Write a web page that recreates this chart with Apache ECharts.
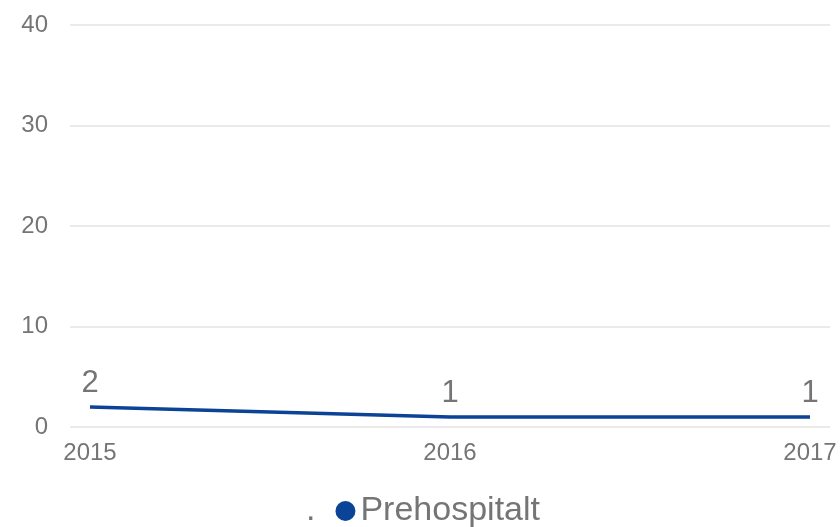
<!DOCTYPE html>
<html><head><meta charset="utf-8">
<script src="https://cdn.jsdelivr.net/npm/echarts@6/dist/echarts.min.js"></script>
<style>html,body{margin:0;padding:0;background:#fff}#c{width:840px;height:527px}</style>
</head><body><div id="c"></div>
<script>
var categories = ['2015', '2016', '2017'];
var values = [2, 1, 1];
var seriesName = 'Prehospitalt';
var yTicks = {min: 0, max: 40, interval: 10};

var chart = echarts.init(document.getElementById('c'));
var txt = '#757575';
var blue = '#0b4396';
var ff = 'Liberation Sans, Arial';
chart.setOption({
  animation: false,
  grid: [
    {left: 70, right: 10, top: 25, bottom: 100},
    {left: 90, right: 30, top: 25, bottom: 100}
  ],
  xAxis: [
    {gridIndex: 0, type: 'value', min: 0, max: 1, show: false},
    {gridIndex: 1, type: 'category', data: categories, boundaryGap: false,
     axisLine: {show: false}, axisTick: {show: false},
     axisLabel: {color: txt, fontSize: 24, fontFamily: ff, margin: 14}}
  ],
  yAxis: [
    {gridIndex: 0, type: 'value', min: yTicks.min, max: yTicks.max, interval: yTicks.interval,
     axisLine: {show: false}, axisTick: {show: false},
     splitLine: {lineStyle: {color: '#e3e3e3', width: 1.5}},
     axisLabel: {color: txt, fontSize: 24, fontFamily: ff, margin: 22}},
    {gridIndex: 1, type: 'value', min: yTicks.min, max: yTicks.max, show: false}
  ],
  legend: {
    bottom: -6, left: 276, itemGap: 20,
    textStyle: {color: txt, fontSize: 34, fontFamily: ff},
    itemWidth: 20, itemHeight: 20,
    data: [{name: '.', icon: 'none'},
           {name: seriesName, icon: 'circle', itemStyle: {color: blue, opacity: 1}}]
  },
  series: [
    {name: '.', type: 'line', xAxisIndex: 1, yAxisIndex: 1, data: [], itemStyle: {color: '#fff'}},
    {name: seriesName, type: 'line', xAxisIndex: 1, yAxisIndex: 1, data: values,
     symbol: 'circle', symbolSize: 0.1, showSymbol: true, color: blue,
     itemStyle: {color: blue},
     lineStyle: {width: 3.5, color: blue},
     label: {show: true, position: 'top', distance: 8, color: txt, fontSize: 31, fontFamily: ff}}
  ]
});
</script></body></html>
